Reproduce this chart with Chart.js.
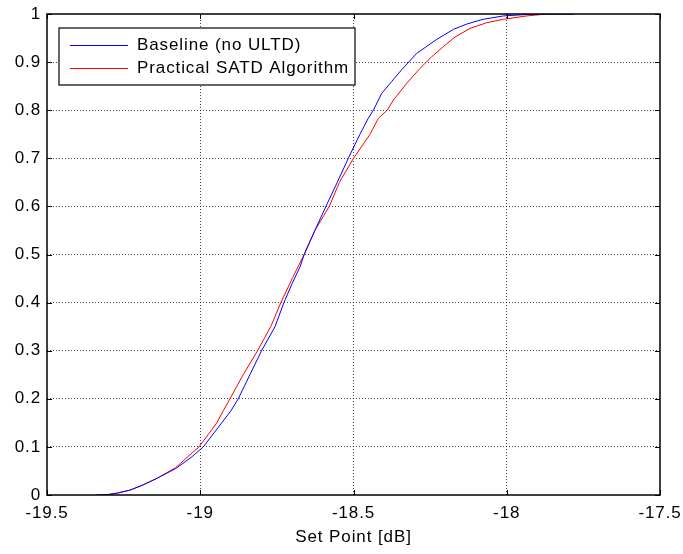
<!DOCTYPE html>
<html>
<head>
<meta charset="utf-8">
<script src="https://cdn.jsdelivr.net/npm/chart.js@4/dist/chart.umd.min.js"></script>
<style>
  html, body { margin: 0; padding: 0; background: #fff; }
  #wrap { width: 683px; height: 554px; position: relative; }
</style>
</head>
<body>
<div id="wrap"><canvas id="c" width="683" height="554"></canvas></div>
<script>
// ---- Data ----
const seriesNames = ["Baseline (no ULTD)", "Practical SATD Algorithm"];
const seriesColors = ["#0000ff", "#ff0000"];

const baselineX = [-19.34, -19.30, -19.27, -19.23, -19.19, -19.14, -19.08, -19.03, -18.99, -18.96, -18.93, -18.90, -18.876, -18.838, -18.80, -18.756, -18.727, -18.70, -18.674, -18.661, -18.626, -18.59, -18.553, -18.517, -18.479, -18.452, -18.435, -18.408, -18.375, -18.343, -18.294, -18.229, -18.174, -18.131, -18.077, -18.011, -17.935, -17.87, -17.78];
const baselineY = [0, 0.001, 0.004, 0.01, 0.02, 0.035, 0.055, 0.078, 0.1, 0.125, 0.15, 0.175, 0.2, 0.25, 0.3, 0.35, 0.4, 0.44, 0.475, 0.5, 0.55, 0.6, 0.65, 0.7, 0.75, 0.783, 0.8, 0.835, 0.86, 0.884, 0.918, 0.947, 0.968, 0.979, 0.989, 0.996, 0.999, 1, 1];

const satdX = [-19.31, -19.27, -19.23, -19.19, -19.14, -19.08, -19.04, -19.004, -18.975, -18.946, -18.925, -18.903, -18.86, -18.813, -18.77, -18.737, -18.70, -18.661, -18.626, -18.579, -18.546, -18.50, -18.446, -18.419, -18.39, -18.37, -18.326, -18.283, -18.245, -18.207, -18.169, -18.12, -18.065, -18.011, -17.935, -17.87, -17.78];
const satdY = [0, 0.004, 0.01, 0.02, 0.035, 0.057, 0.08, 0.1, 0.125, 0.15, 0.175, 0.2, 0.25, 0.3, 0.35, 0.4, 0.45, 0.5, 0.55, 0.6, 0.65, 0.7, 0.75, 0.783, 0.8, 0.821, 0.856, 0.887, 0.911, 0.932, 0.952, 0.97, 0.982, 0.989, 0.996, 1, 1];

const xTicks = [-19.5, -19, -18.5, -18, -17.5];
const yTicks = [0, 0.1, 0.2, 0.3, 0.4, 0.5, 0.6, 0.7, 0.8, 0.9, 1];
const xTitle = "Set Point [dB]";

const FONT = "'Liberation Sans', Arial, sans-serif";
const FSIZE = 17;
const SPACING = '0.9px';

function pts(xs, ys) { return xs.map((x, i) => ({ x: x, y: ys[i] })); }

const wideText = {
  id: 'wideText',
  beforeDraw(chart) { chart.ctx.letterSpacing = SPACING; }
};

// Box + inward ticks + legend plugin
const matlabBox = {
  id: 'matlabBox',
  afterDraw(chart) {
    const ctx = chart.ctx;
    const a = chart.chartArea;
    const xs = chart.scales.x, ys = chart.scales.y;
    ctx.save();
    ctx.strokeStyle = '#000';
    ctx.lineWidth = 1;
    const L = 5;
    ctx.beginPath();
    xTicks.forEach(v => {
      const p = Math.round(xs.getPixelForValue(v)) + 0.5;
      ctx.moveTo(p, a.bottom); ctx.lineTo(p, a.bottom - L);
      ctx.moveTo(p, a.top); ctx.lineTo(p, a.top + L);
    });
    yTicks.forEach(v => {
      const p = Math.round(ys.getPixelForValue(v)) + 0.5;
      ctx.moveTo(a.left, p); ctx.lineTo(a.left + L, p);
      ctx.moveTo(a.right, p); ctx.lineTo(a.right - L, p);
    });
    ctx.stroke();
    ctx.lineWidth = 1.5;
    ctx.strokeRect(a.left, a.top, a.right - a.left, a.bottom - a.top);

    // legend
    const lx = a.left + 12, ly = a.top + 14, lw = 296, lh = 57;
    ctx.fillStyle = '#fff';
    ctx.fillRect(lx, ly, lw, lh);
    ctx.lineWidth = 1.2;
    ctx.strokeRect(lx, ly, lw, lh);
    ctx.font = FSIZE + "px " + FONT;
    ctx.letterSpacing = SPACING;
    ctx.textBaseline = 'middle';
    ctx.textAlign = 'left';
    chart.data.datasets.forEach((ds, i) => {
      const cy = ly + 17 + i * 23;
      ctx.strokeStyle = ds.borderColor;
      ctx.lineWidth = 1;
      ctx.beginPath();
      ctx.moveTo(lx + 11, cy + 0.5); ctx.lineTo(lx + 69, cy + 0.5);
      ctx.stroke();
      ctx.fillStyle = '#000';
      ctx.fillText(ds.label, lx + 78, cy);
    });
    ctx.restore();
  }
};

new Chart(document.getElementById('c'), {
  type: 'scatter',
  data: {
    datasets: [
      { label: seriesNames[0], data: pts(baselineX, baselineY), borderColor: seriesColors[0], backgroundColor: seriesColors[0], showLine: true, pointRadius: 0, borderWidth: 1, tension: 0 },
      { label: seriesNames[1], data: pts(satdX, satdY), borderColor: seriesColors[1], backgroundColor: seriesColors[1], showLine: true, pointRadius: 0, borderWidth: 1, tension: 0 }
    ]
  },
  options: {
    responsive: false,
    animation: false,
    devicePixelRatio: 1,
    layout: { padding: { top: 14, right: 23, left: 0, bottom: 0 } },
    plugins: { legend: { display: false }, tooltip: { enabled: false } },
    scales: {
      x: {
        type: 'linear', min: -19.5, max: -17.5,
        afterBuildTicks(s) { s.ticks = xTicks.map(v => ({ value: v })); },
        afterFit(s) { s.height = 59; s.paddingLeft = 0; s.paddingRight = 0; },
        ticks: { color: '#000', font: { family: FONT, size: FSIZE }, padding: 8, maxRotation: 0,
                 callback: v => String(v) },
        grid: { color: c => (c.tick && (c.tick.value === -19.5 || c.tick.value === -17.5)) ? 'rgba(0,0,0,0)' : 'rgba(0,0,0,0.75)',
                borderDash: [1, 2], drawTicks: false, lineWidth: 1 },
        border: { display: false, dash: [1, 2] },
        title: { display: true, text: xTitle, color: '#000', font: { family: FONT, size: FSIZE }, padding: { top: 2, bottom: 6 } }
      },
      y: {
        type: 'linear', min: 0, max: 1,
        afterBuildTicks(s) { s.ticks = yTicks.map(v => ({ value: v })); },
        afterFit(s) { s.width = 47; s.paddingTop = 0; s.paddingBottom = 0; },
        ticks: { color: '#000', font: { family: FONT, size: FSIZE }, padding: 6,
                 callback: v => String(v) },
        grid: { color: c => (c.tick && (c.tick.value === 0 || c.tick.value === 1)) ? 'rgba(0,0,0,0)' : 'rgba(0,0,0,0.75)',
                borderDash: [1, 2], drawTicks: false, lineWidth: 1 },
        border: { display: false, dash: [1, 2] }
      }
    }
  },
  plugins: [wideText, matlabBox]
});
</script>
</body>
</html>
